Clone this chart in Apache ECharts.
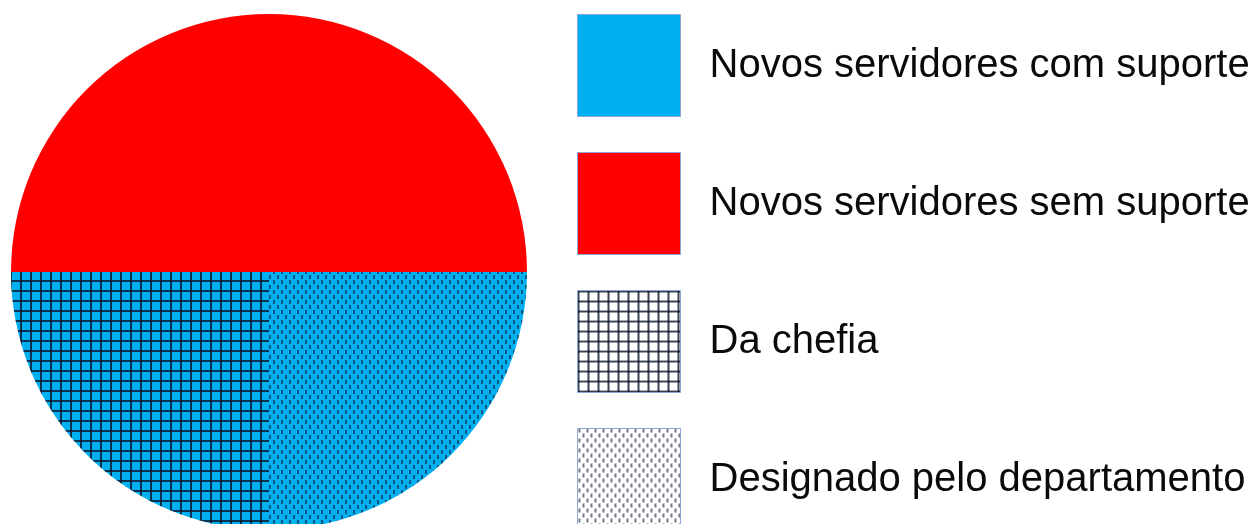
<!DOCTYPE html>
<html>
<head>
<meta charset="utf-8">
<script src="https://cdn.jsdelivr.net/npm/echarts@6/dist/echarts.min.js"></script>
<style>
html,body{margin:0;padding:0;background:#fff;}
#chart{width:1252px;height:524px;}
</style>
</head>
<body>
<div id="chart"></div>
<script>
// Data
const mainCategories = ['Novos servidores sem suporte', 'Novos servidores com suporte'];
const mainValues = [50, 50];
const subCategories = ['Designado pelo departamento', 'Da chefia'];
const subValues = [25, 25];
const legendOrder = ['Novos servidores com suporte', 'Novos servidores sem suporte', 'Da chefia', 'Designado pelo departamento'];

function gridPattern() {
  const c = document.createElement('canvas');
  c.width = 10; c.height = 10;
  const g = c.getContext('2d');
  g.fillStyle = 'rgba(10,20,40,0.8)';
  g.fillRect(0, 0, 10, 2);
  g.fillRect(0, 0, 2, 10);
  return c;
}
function dotPattern() {
  const c = document.createElement('canvas');
  c.width = 8; c.height = 10;
  const g = c.getContext('2d');
  g.fillStyle = 'rgba(20,30,50,0.6)';
  g.fillRect(1, 0, 2, 4);
  g.fillRect(5, 5, 2, 4);
  return c;
}
const gridFill = { image: gridPattern(), repeat: 'repeat' };
const dotFill = { image: dotPattern(), repeat: 'repeat' };

const colors = {
  'Novos servidores sem suporte': '#ff0000',
  'Novos servidores com suporte': '#00b0f0',
  'Da chefia': gridFill,
  'Designado pelo departamento': dotFill
};

const chart = echarts.init(document.getElementById('chart'), null, { renderer: 'canvas' });
const center = [269, 272];
const radius = 258;
const option = {
  animation: false,
  legend: {
    orient: 'vertical',
    left: 577,
    top: 14,
    height: 800,
    padding: 0,
    itemWidth: 103,
    itemHeight: 102,
    itemGap: 35,
    icon: 'rect',
    selectedMode: false,
    itemStyle: { borderColor: '#8ea6d4', borderWidth: 1 },
    textStyle: { fontFamily: 'Liberation Sans, Arial, sans-serif', fontSize: 40, color: '#0a0a0a', padding: [4, 0, 0, 24] },
    data: legendOrder.map(n => ({ name: n, itemStyle: { color: colors[n], borderColor: '#8ea6d4', borderWidth: 1 } }))
  },
  series: [
    {
      type: 'pie',
      center: center,
      radius: radius,
      startAngle: 180,
      clockwise: true,
      silent: true,
      label: { show: false },
      labelLine: { show: false },
      emphasis: { disabled: true },
      data: mainCategories.map((n, i) => ({ name: n, value: mainValues[i], itemStyle: { color: colors[n] } }))
    },
    {
      type: 'pie',
      center: center,
      radius: radius,
      startAngle: 180,
      clockwise: true,
      silent: true,
      label: { show: false },
      labelLine: { show: false },
      emphasis: { disabled: true },
      data: [{ name: '__blank', value: mainValues[0], itemStyle: { color: 'rgba(0,0,0,0)' } }]
        .concat(subCategories.map((n, i) => ({ name: n, value: subValues[i], itemStyle: { color: colors[n] } })))
    }
  ]
};
chart.setOption(option);
</script>
</body>
</html>
